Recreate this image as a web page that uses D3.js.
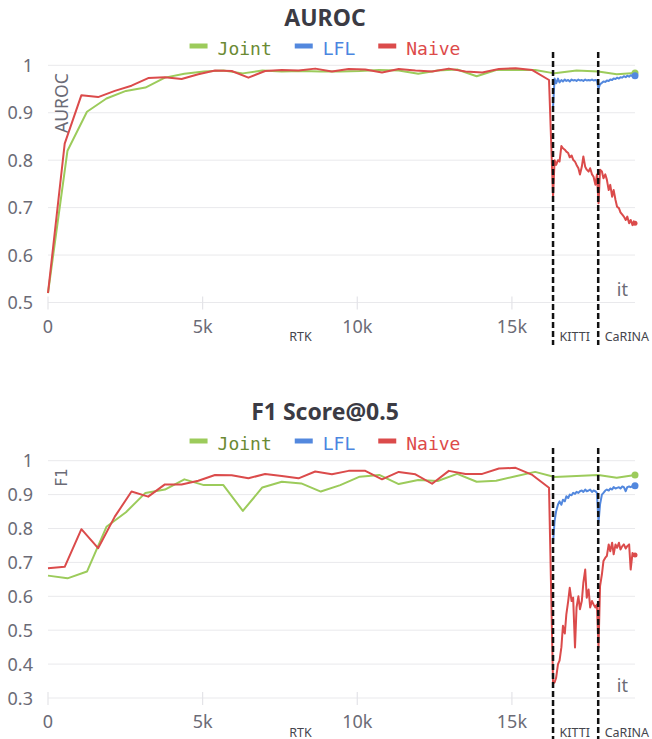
<!DOCTYPE html>
<html>
<head>
<meta charset="utf-8">
<title>AUROC / F1 Score@0.5</title>
<script src="https://cdn.jsdelivr.net/npm/d3@7"></script>
<style>
  body { margin: 0; background: #fff; }
</style>
</head>
<body>
<script>
// ---- data ----
var seriesNames = ["Joint", "LFL", "Naive"];
var lineColors = ["#9ccb5b", "#5388de", "#db4b4b"];
var legendColors = ["#6b8a34", "#4b86e0", "#dd4a4a"];

var xTicks = [0, 5000, 10000, 15000];
var xTickLabels = ["0", "5k", "10k", "15k"];
var phaseNames = ["RTK", "KITTI", "CaRINA"];
var phaseStarts = [0, 16330, 17790];
var lastIt = 18980;

var aurocTicks = [0.5, 0.6, 0.7, 0.8, 0.9, 1];
var f1Ticks = [0.3, 0.4, 0.5, 0.6, 0.7, 0.8, 0.9, 1];

// Joint: sparse evaluation points over the whole run
var jointIt = [0, 630, 1260, 1890, 2520, 3150, 3780, 4410, 5040, 5670, 6300, 6930, 7560, 8190,
  8820, 9450, 10080, 10710, 11340, 11970, 12600, 13230, 13860, 14490, 15120, 15750, 16380,
  17090, 17790, 18390, 18980];
var jointAuroc = [0.52, 0.82, 0.902, 0.930, 0.946, 0.953, 0.974, 0.982, 0.987, 0.989, 0.983, 0.989,
  0.987, 0.988, 0.987, 0.987, 0.988, 0.990, 0.989, 0.982, 0.989, 0.991, 0.977, 0.990, 0.990, 0.990,
  0.983, 0.989, 0.987, 0.981, 0.984];
var jointF1 = [0.661, 0.653, 0.673, 0.805, 0.848, 0.905, 0.915, 0.945, 0.928, 0.928, 0.852, 0.921,
  0.938, 0.933, 0.909, 0.928, 0.953, 0.958, 0.931, 0.943, 0.940, 0.961, 0.938, 0.941, 0.954, 0.967,
  0.952, 0.955, 0.958, 0.950, 0.958];

// Naive: RTK phase
var rtkIt = [0, 540, 1080, 1620, 2160, 2700, 3240, 3780, 4320, 4860, 5400, 5940, 6480, 7020, 7560,
  8100, 8640, 9180, 9720, 10260, 10800, 11340, 11880, 12420, 12960, 13500, 14040, 14580, 15120,
  15660, 16200];
var naiveAurocRtk = [0.52, 0.835, 0.937, 0.933, 0.946, 0.957, 0.973, 0.975, 0.971, 0.981, 0.989,
  0.988, 0.974, 0.988, 0.990, 0.989, 0.993, 0.987, 0.992, 0.991, 0.985, 0.992, 0.989, 0.987, 0.993,
  0.987, 0.985, 0.992, 0.994, 0.990, 0.969];
var naiveF1Rtk = [0.683, 0.687, 0.798, 0.742, 0.835, 0.909, 0.894, 0.930, 0.930, 0.941, 0.958,
  0.957, 0.948, 0.961, 0.955, 0.948, 0.968, 0.960, 0.970, 0.970, 0.945, 0.967, 0.960, 0.932, 0.970,
  0.961, 0.961, 0.977, 0.979, 0.958, 0.920];

// KITTI + CaRINA phases (dense logging)
var adaptIt = [16330, 16380, 16430, 16490, 16540, 16600, 16650, 16710, 16760, 16820, 16870, 16930,
  16980, 17040, 17090, 17150, 17200, 17260, 17310, 17370, 17420, 17480, 17530, 17590, 17640, 17700,
  17750, 17800, 17850, 17910, 17960, 18020, 18070, 18130, 18180, 18240, 18290, 18350, 18400, 18460,
  18510, 18570, 18620, 18680, 18730, 18790, 18840, 18900, 18940, 18980];
var lflAuroc = [0.913, 0.972, 0.962, 0.972, 0.964, 0.969, 0.966, 0.970, 0.967, 0.969, 0.966, 0.970,
  0.968, 0.969, 0.967, 0.970, 0.968, 0.969, 0.967, 0.970, 0.968, 0.969, 0.968, 0.970, 0.968, 0.969,
  0.968, 0.951, 0.960, 0.963, 0.966, 0.965, 0.968, 0.967, 0.970, 0.969, 0.972, 0.971, 0.974, 0.972,
  0.975, 0.974, 0.977, 0.975, 0.978, 0.976, 0.979, 0.977, 0.979, 0.978];
var naiveAurocAdapt = [0.723, 0.80, 0.79, 0.80, 0.797, 0.830, 0.825, 0.822, 0.818, 0.815, 0.806,
  0.810, 0.801, 0.797, 0.790, 0.783, 0.770, 0.786, 0.808, 0.786, 0.780, 0.776, 0.783, 0.770, 0.765,
  0.748, 0.770, 0.709, 0.780, 0.776, 0.762, 0.770, 0.759, 0.737, 0.748, 0.723, 0.737, 0.716, 0.702,
  0.699, 0.690, 0.685, 0.681, 0.674, 0.681, 0.667, 0.674, 0.663, 0.671, 0.667];
var lflF1 = [0.76, 0.822, 0.851, 0.871, 0.880, 0.870, 0.885, 0.880, 0.895, 0.890, 0.900, 0.898,
  0.905, 0.902, 0.908, 0.905, 0.910, 0.912, 0.908, 0.915, 0.910, 0.912, 0.915, 0.908, 0.912, 0.910,
  0.905, 0.818, 0.871, 0.900, 0.905, 0.912, 0.915, 0.912, 0.918, 0.915, 0.922, 0.918, 0.920, 0.922,
  0.918, 0.924, 0.922, 0.910, 0.922, 0.924, 0.922, 0.925, 0.924, 0.926];
var naiveF1Adapt = [0.343, 0.346, 0.36, 0.40, 0.41, 0.45, 0.513, 0.49, 0.547, 0.586, 0.625, 0.586,
  0.596, 0.449, 0.567, 0.60, 0.562, 0.586, 0.64, 0.679, 0.596, 0.62, 0.567, 0.586, 0.576, 0.567,
  0.576, 0.449, 0.63, 0.665, 0.704, 0.714, 0.719, 0.753, 0.733, 0.758, 0.724, 0.753, 0.743, 0.758,
  0.738, 0.748, 0.753, 0.741, 0.748, 0.753, 0.679, 0.728, 0.719, 0.722];

// ---- drawing ----
var svgWidth = 652, svgHeight = 739;
var sans = "'Noto Sans', sans-serif";
var mono = "'DejaVu Sans Mono', monospace";

var svg = d3.select("body").append("svg")
  .attr("width", svgWidth)
  .attr("height", svgHeight)
  .style("font-family", sans);

var xScale = d3.scaleLinear().domain([0, lastIt]).range([48, 635]);

var panels = [
  {
    title: "AUROC", titleY: 25.5, legendY: 46, plotTop: 65.3, plotBottom: 302.5,
    yTicks: aurocTicks, ylabel: "AUROC", ylabelMono: false,
    dashTop: 52, dashBottom: 345,
    series: [
      d3.zip(jointIt, jointAuroc),
      d3.zip(adaptIt, lflAuroc),
      d3.zip(rtkIt.concat(adaptIt), naiveAurocRtk.concat(naiveAurocAdapt))
    ]
  },
  {
    title: "F1 Score@0.5", titleY: 419.5, legendY: 441, plotTop: 460.7, plotBottom: 698,
    yTicks: f1Ticks, ylabel: "F1", ylabelMono: true,
    dashTop: 448, dashBottom: 739,
    series: [
      d3.zip(jointIt, jointF1),
      d3.zip(adaptIt, lflF1),
      d3.zip(rtkIt.concat(adaptIt), naiveF1Rtk.concat(naiveF1Adapt))
    ]
  }
];

panels.forEach(function(p) {
  var g = svg.append("g");
  var yScale = d3.scaleLinear()
    .domain([d3.min(p.yTicks), d3.max(p.yTicks)])
    .range([p.plotBottom, p.plotTop]);

  // title
  g.append("text")
    .attr("x", 325).attr("y", p.titleY)
    .attr("text-anchor", "middle")
    .style("font-size", "23px").style("font-weight", "bold")
    .attr("fill", "#3b3b44")
    .text(p.title);

  // legend (centred)
  var leg = g.append("g");
  var lx = 0;
  seriesNames.forEach(function(name, i) {
    leg.append("line")
      .attr("x1", lx).attr("x2", lx + 18)
      .attr("y1", p.legendY).attr("y2", p.legendY)
      .attr("stroke", lineColors[i]).attr("stroke-width", 5);
    var t = leg.append("text")
      .attr("x", lx + 28).attr("y", p.legendY + 8.5)
      .style("font-family", mono)
      .style("font-size", "18px")
      .attr("fill", legendColors[i])
      .text(name);
    lx += 28 + t.node().getComputedTextLength() + 23;
  });
  var legW = lx - 23;
  leg.attr("transform", "translate(" + (325 - legW / 2) + ",0)");

  // horizontal grid + y tick labels
  g.selectAll(".grid").data(p.yTicks).enter().append("line")
    .attr("x1", 48).attr("x2", 635)
    .attr("y1", function(d) { return yScale(d); })
    .attr("y2", function(d) { return yScale(d); })
    .attr("stroke", "#e9e9ec").attr("stroke-width", 1);
  g.selectAll(".ylab").data(p.yTicks).enter().append("text")
    .attr("x", 33)
    .attr("y", function(d) { return yScale(d) + 6.5; })
    .attr("text-anchor", "end")
    .style("font-size", "18px").attr("fill", "#6b6b76")
    .text(function(d) { return d === 1 ? "1" : d3.format(".1f")(d); });

  // x ticks and labels
  g.selectAll(".xtick").data(xTicks).enter().append("line")
    .attr("x1", function(d) { return xScale(d); })
    .attr("x2", function(d) { return xScale(d); })
    .attr("y1", p.plotBottom - 6).attr("y2", p.plotBottom + 7)
    .attr("stroke", "#e4e4e8").attr("stroke-width", 1.2);
  g.selectAll(".xlab").data(xTicks).enter().append("text")
    .attr("x", function(d) { return xScale(d); })
    .attr("y", p.plotBottom + 30.2)
    .attr("text-anchor", "middle")
    .style("font-size", "18px").attr("fill", "#6b6b76")
    .text(function(d, i) { return xTickLabels[i]; });

  // y axis title
  g.append("text")
    .attr("transform", "translate(" + (p.ylabelMono ? 66.5 : 68) + "," + (p.plotTop + 8) + ") rotate(-90)")
    .attr("text-anchor", "end")
    .style("font-family", p.ylabelMono ? mono : sans)
    .style("font-size", p.ylabelMono ? "15px" : "17.5px")
    .attr("fill", "#6b6b76")
    .text(p.ylabel);

  // "it" x-axis title
  g.append("text")
    .attr("x", 628).attr("y", p.plotBottom - 6.5)
    .attr("text-anchor", "end")
    .style("font-size", "18px").attr("fill", "#6b6b76")
    .text("it");

  // series lines
  var line = d3.line()
    .x(function(d) { return xScale(d[0]); })
    .y(function(d) { return yScale(d[1]); });
  p.series.forEach(function(s, i) {
    g.append("path")
      .datum(s)
      .attr("d", line)
      .attr("fill", "none")
      .attr("stroke", lineColors[i])
      .attr("stroke-width", 2)
      .attr("stroke-linejoin", "round");
    var last = s[s.length - 1];
    g.append("circle")
      .attr("cx", xScale(last[0])).attr("cy", yScale(last[1]))
      .attr("r", i === 2 ? 2.5 : 3.5).attr("fill", lineColors[i]);
  });

  // phase boundaries
  g.selectAll(".phase").data(phaseStarts.slice(1)).enter().append("line")
    .attr("x1", function(d) { return xScale(d); })
    .attr("x2", function(d) { return xScale(d); })
    .attr("y1", p.dashTop).attr("y2", p.dashBottom)
    .attr("stroke", "#111").attr("stroke-width", 2.5)
    .attr("stroke-dasharray", "6,3");

  // phase names
  phaseNames.forEach(function(name, i) {
    var t = g.append("text")
      .attr("y", p.plotBottom + 38.5)
      .style("font-size", "12.5px").attr("fill", "#45454d")
      .text(name);
    if (i === 0) {
      t.attr("x", xScale((phaseStarts[0] + phaseStarts[1]) / 2)).attr("text-anchor", "middle");
    } else {
      t.attr("x", xScale(phaseStarts[i]) + 6.5).attr("text-anchor", "start");
    }
  });
});
</script>
</body>
</html>
